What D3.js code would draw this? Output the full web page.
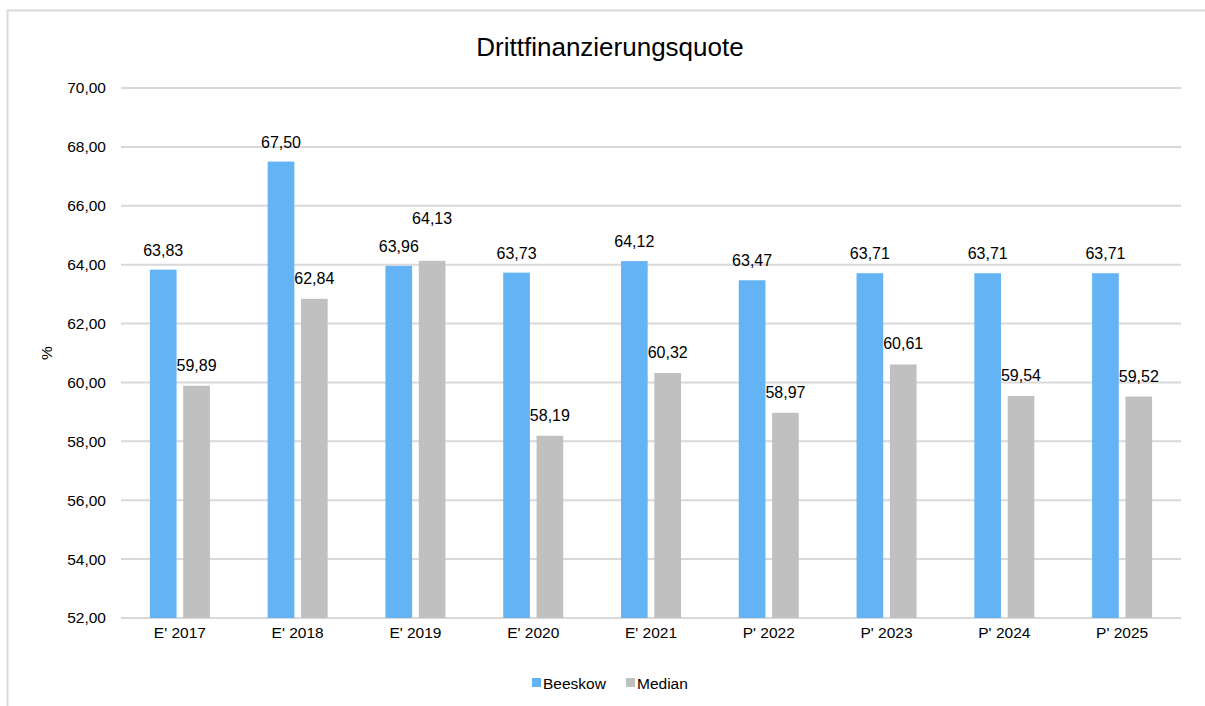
<!DOCTYPE html>
<html>
<head>
<meta charset="utf-8">
<script src="https://cdn.jsdelivr.net/npm/d3@7"></script>
<style>
body {margin:0;background:#fff;font-family:"Liberation Sans",Arial,sans-serif;}
svg text {fill:#000;}
</style>
</head>
<body>
<svg id="chart" width="1205" height="706"></svg>
<script>
var categories = ["E' 2017","E' 2018","E' 2019","E' 2020","E' 2021","P' 2022","P' 2023","P' 2024","P' 2025"];
var beeskow = [63.83, 67.50, 63.96, 63.73, 64.12, 63.47, 63.71, 63.71, 63.71];
var median = [59.89, 62.84, 64.13, 58.19, 60.32, 58.97, 60.61, 59.54, 59.52];
var yTicks = [52, 54, 56, 58, 60, 62, 64, 66, 68, 70];
var seriesNames = ["Beeskow", "Median"];
var colors = ["#63b3f5", "#c0c0c0"];

var svg = d3.select("#chart");
var fmt = function(v) { return d3.format(".2f")(v).replace(".", ","); };

// frame
svg.append("path").attr("d", "M7.5,706 V10.5 H1205").attr("fill", "none")
  .attr("stroke", "#d9d9d9").attr("stroke-width", 2);

var x = d3.scaleBand().domain(categories).range([121, 1181]);
var y = d3.scaleLinear().domain([52, 70]).range([618, 88]);
var inner = d3.scaleBand().domain(seriesNames).range([0, 60]).paddingInner(0.2);

// grid
svg.append("g").selectAll("line").data(yTicks).enter().append("line")
  .attr("x1", 121).attr("x2", 1181)
  .attr("y1", d => y(d)).attr("y2", d => y(d))
  .attr("stroke", "#d9d9d9").attr("stroke-width", 2);

// y axis labels
var yAxis = d3.axisLeft(y).tickValues(yTicks).tickFormat(fmt).tickSize(0).tickPadding(15);
var gy = svg.append("g").attr("transform", "translate(121,0)").call(yAxis);
gy.select(".domain").remove();
gy.selectAll("text").attr("font-size", 15.5).attr("font-family", "Liberation Sans, Arial, sans-serif").attr("fill", "#000");

// x axis labels
var xAxis = d3.axisBottom(x).tickSize(0).tickPadding(9);
var gx = svg.append("g").attr("transform", "translate(0,618)").call(xAxis);
gx.select(".domain").remove();
gx.selectAll("text").attr("font-size", 15.5).attr("font-family", "Liberation Sans, Arial, sans-serif").attr("fill", "#000");

// bars
var data = categories.map((c, i) => ({cat: c, vals: [beeskow[i], median[i]]}));
var groups = svg.append("g").selectAll("g").data(data).enter().append("g")
  .attr("transform", d => "translate(" + (x(d.cat) + x.bandwidth() / 2 - 30) + ",0)");

groups.selectAll("rect").data(d => d.vals.map((v, j) => ({s: seriesNames[j], v: v, j: j})))
  .enter().append("rect")
  .attr("x", d => inner(d.s))
  .attr("width", inner.bandwidth())
  .attr("y", d => y(d.v))
  .attr("height", d => 618 - y(d.v))
  .attr("fill", d => colors[d.j]);

// value labels
groups.each(function(d) {
  var g = d3.select(this);
  var ly0 = y(d.vals[0]) - 14;
  var ly1 = y(d.vals[1]) - 15;
  if (Math.abs(ly1 - ly0) < 20) ly1 = ly0 - 28;
  [ly0, ly1].forEach(function(ly, j) {
    g.append("text")
      .attr("x", inner(seriesNames[j]) + inner.bandwidth() / 2)
      .attr("y", ly)
      .attr("text-anchor", "middle")
      .attr("font-size", 16)
      .text(fmt(d.vals[j]));
  });
});

// title
svg.append("text").attr("x", 610).attr("y", 56).attr("text-anchor", "middle")
  .attr("font-size", 26).text("Drittfinanzierungsquote");

// y title
svg.append("text").attr("transform", "translate(52,353) rotate(-90)")
  .attr("text-anchor", "middle").attr("font-size", 15.5).text("%");

// legend
var legend = svg.append("g").attr("transform", "translate(532,683)");
var lx = [0, 94];
seriesNames.forEach(function(n, i) {
  legend.append("rect").attr("x", lx[i]).attr("y", -5).attr("width", 9).attr("height", 9).attr("fill", colors[i]);
  legend.append("text").attr("x", lx[i] + 11).attr("y", 5.5).attr("font-size", 15.5).text(n);
});
</script>
</body>
</html>
